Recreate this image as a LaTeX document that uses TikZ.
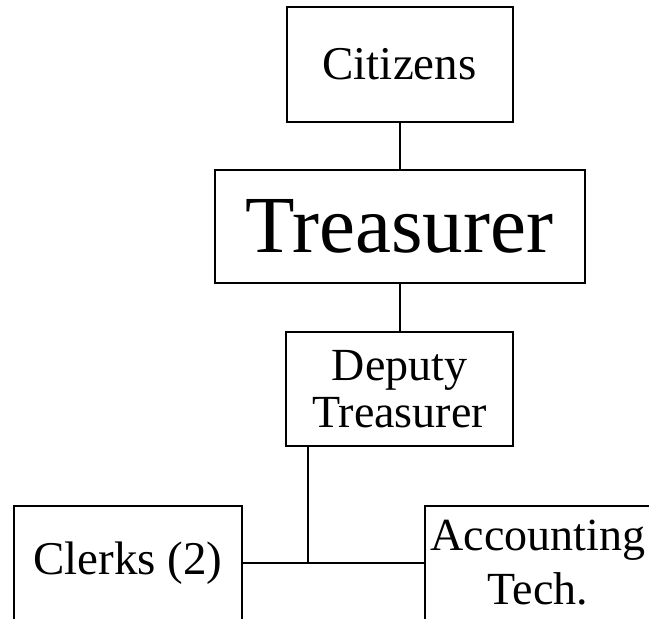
\documentclass[tikz,border=0pt]{standalone}
\usepackage{fontspec}
\setmainfont{Liberation Serif}
\begin{document}
\begin{tikzpicture}[x=1pt,y=-1pt,
  box/.style={draw=black,line width=2pt,inner sep=0pt,align=center,
    minimum height=114pt},
  conn/.style={draw=black,line width=2pt}]
\clip (0,0) rectangle (649,619);
\node[box,minimum width=226pt,minimum height=115pt,font=\fontsize{47}{45}\selectfont] (cit) at (399.5,64.5) {Citizens};
\node[box,minimum width=370pt,minimum height=113pt,font=\fontsize{81}{80}\selectfont] (tre) at (399.5,226.5) {Treasurer};
\node[box,minimum width=227pt,font=\fontsize{46}{47}\selectfont] (dep) at (399.5,389) {Deputy\\Treasurer};
\node[box,minimum width=228pt,font=\fontsize{47}{45}\selectfont] (clk) at (128,563) {Clerks (2)};
\node[box,minimum width=226pt,font=\fontsize{46}{54}\selectfont] (acc) at (538,563) {Accounting\\Tech.};
\coordinate (j) at (308,563);
\draw[conn] (cit.south) -- (tre.north);
\draw[conn] (tre.south) -- (dep.north);
\draw[conn] (j |- dep.south) -- (j);
\draw[conn] (clk.east) -- (acc.west);
\end{tikzpicture}
\end{document}
